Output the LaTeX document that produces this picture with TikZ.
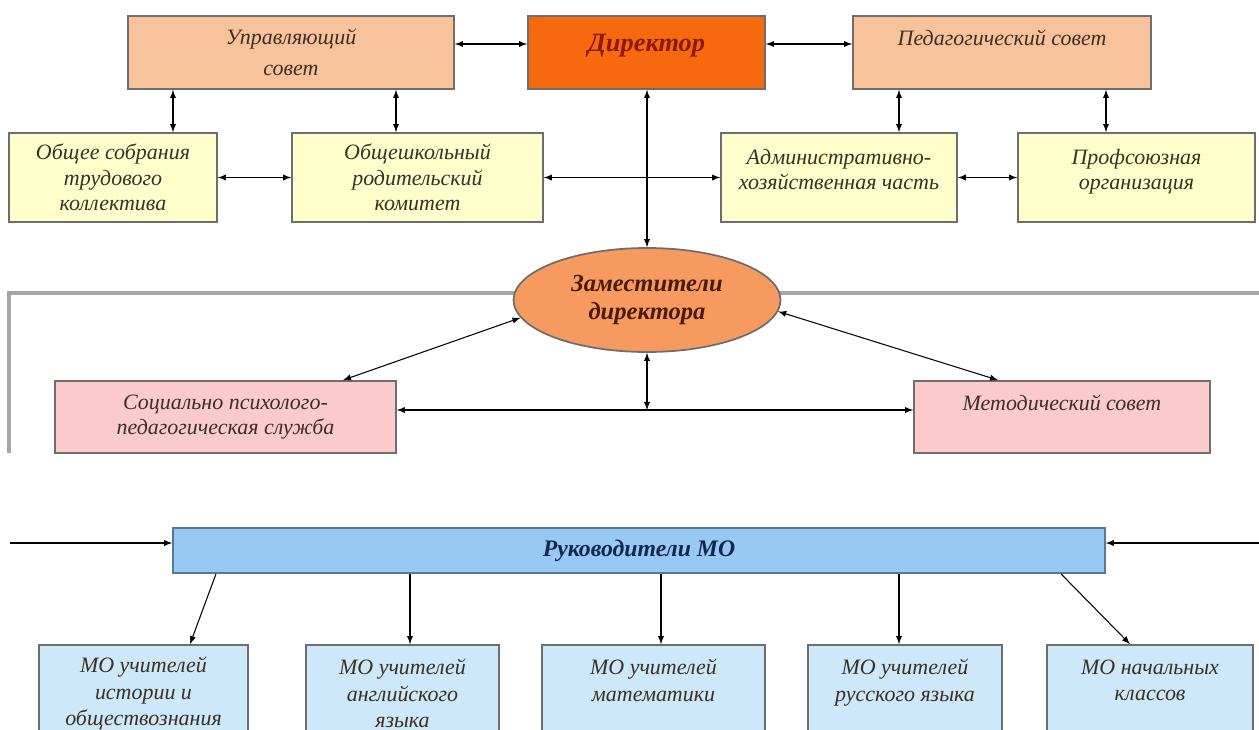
\documentclass[tikz,border=0pt]{standalone}
\usepackage{fontspec}
\setmainfont{Liberation Serif}
\usetikzlibrary{shapes.geometric}

\definecolor{peach}{HTML}{F8C39B}
\definecolor{dirfill}{HTML}{F7690F}
\definecolor{dirtext}{HTML}{8B1A0A}
\definecolor{paleyellow}{HTML}{FFFFCC}
\definecolor{zamfill}{HTML}{F79A5F}
\definecolor{zamtext}{HTML}{4A1A0A}
\definecolor{pink}{HTML}{FBCACA}
\definecolor{rukfill}{HTML}{98C8F4}
\definecolor{ruktext}{HTML}{14264F}
\definecolor{mofill}{HTML}{CDE8F8}
\definecolor{boxline}{HTML}{6E6E6E}
\definecolor{txt}{HTML}{3B3026}
\definecolor{frameline}{HTML}{A6A6A6}

\begin{document}
\begin{tikzpicture}[x=0.02cm, y=-0.02cm,
	every node/.append style={font=\itshape\fontsize{12.5}{14.5}\selectfont, text=txt},
	box/.style={draw=boxline, line width=1pt, inner sep=2pt, align=center},
	link/.style={latex-latex, black, line width=0.6pt}]
	\useasboundingbox (0,0) rectangle (1259,730);
	\clip (0,0) rectangle (1259,730);

	\draw[frameline, line width=2pt] (9,453) -- (9,293) -- (1259,293);

	\node[box, fill=peach, minimum width=6.52cm, minimum height=1.46cm] (upr) at (291,52.5) {Управляющий\\[3pt]совет};
	\node[box, fill=dirfill, minimum width=4.74cm, minimum height=1.46cm, text=dirtext, font=\bfseries\itshape\fontsize{15}{17}\selectfont] (dir) at (646.5,52.5) {Директор\\[-6pt]\mbox{}};
	\node[box, fill=peach, minimum width=5.96cm, minimum height=1.46cm] (ped) at (1002,52.5) {Педагогический совет\\[2pt]\mbox{}};

	\foreach \n/\c/\w/\t in {obsh/113/4.16/Общее собрания\\трудового\\коллектива, rod/417.5/5.02/Общешкольный\\родительский\\комитет, adm/839/4.72/Административно-\\хозяйственная часть\\[-5pt]\mbox{}, prof/1136.5/4.74/Профсоюзная\\организация\\[-5pt]\mbox{}}
	{
		\node[box, fill=paleyellow, minimum width=\w cm, minimum height=1.78cm] (\n) at (\c,177.5) {\t};
	}

	\node[ellipse, draw=boxline, line width=1pt, fill=zamfill, inner sep=0pt, minimum width=5.34cm, minimum height=2.08cm, align=center, text=zamtext, font=\bfseries\itshape\fontsize{14}{15.5}\selectfont] (zam) at (647,300) {Заместители\\директора};

	\node[box, fill=pink, minimum width=6.82cm, minimum height=1.44cm] (soc) at (225.5,417) {Социально психолого-\\педагогическая служба};
	\node[box, fill=pink, minimum width=5.92cm, minimum height=1.44cm] (met) at (1062,417) {Методический совет\\[2pt]\mbox{}};

	\node[box, fill=rukfill, draw=rukfill!60!black, minimum width=18.64cm, minimum height=0.9cm, text=ruktext, font=\bfseries\itshape\fontsize{13.5}{15}\selectfont] (ruk) at (639,550.5) {Руководители МО};

	\foreach \i/\c/\w/\t in {1/143.5/4.18/МО учителей\\истории и\\обществознания, 2/402.5/3.86/МО учителей\\английского\\языка, 3/653.5/4.46/МО учителей\\математики\\\mbox{}, 4/905/3.88/МО учителей\\русского языка\\\mbox{}, 5/1150/4.12/МО начальных\\классов\\\mbox{}}
	{
		\node[box, fill=mofill, minimum width=\w cm, minimum height=1.94cm, font=\itshape\fontsize{12.5}{15}\selectfont] (mo\i) at (\c,693.5) {\t};
	}

	\draw[link] ([yshift=0.17cm]upr.east) -- ([yshift=0.17cm]dir.west);
	\draw[link] ([yshift=0.17cm]dir.east) -- ([yshift=0.17cm]ped.west);

	\foreach \i/\x/\a/\b in {1/173/upr/obsh, 2/396/upr/rod, 3/899/ped/adm, 4/1106/ped/prof}
	{
		\coordinate (v\i) at (\x,0);
		\draw[link] (v\i |- \a.south) -- (v\i |- \b.north);
	}

	\draw[link] (obsh) -- (rod);
	\draw[link] (rod) -- (adm);
	\draw[link] (adm) -- (prof);
	\draw[link] (zam.north |- dir.south) -- (zam.north);

	\draw[link] (zam.188) -- ([xshift=2.35cm]soc.north);
	\draw[link] (zam.355) -- ([xshift=-1.28cm]met.north);
	\coordinate (hl) at (647,410);
	\draw[link] (zam.south) -- (hl);
	\draw[link] (soc.east |- hl) -- (met.west |- hl);

	\coordinate (lin) at (10,543);
	\coordinate (rin) at (1259,543);
	\draw[-latex, line width=0.6pt] (lin) -- (lin -| ruk.west);
	\draw[-latex, line width=0.6pt] (rin) -- (rin -| ruk.east);

	\foreach \i/\xa/\xb in {1/216/190, 2/410/410, 3/661/661, 4/899/899, 5/1061/1130}
	{
		\coordinate (s\i) at (\xa,0);
		\coordinate (t\i) at (\xb,0);
		\draw[-latex, line width=0.6pt] (s\i |- ruk.south) -- (t\i |- mo\i.north);
	}
\end{tikzpicture}
\end{document}
